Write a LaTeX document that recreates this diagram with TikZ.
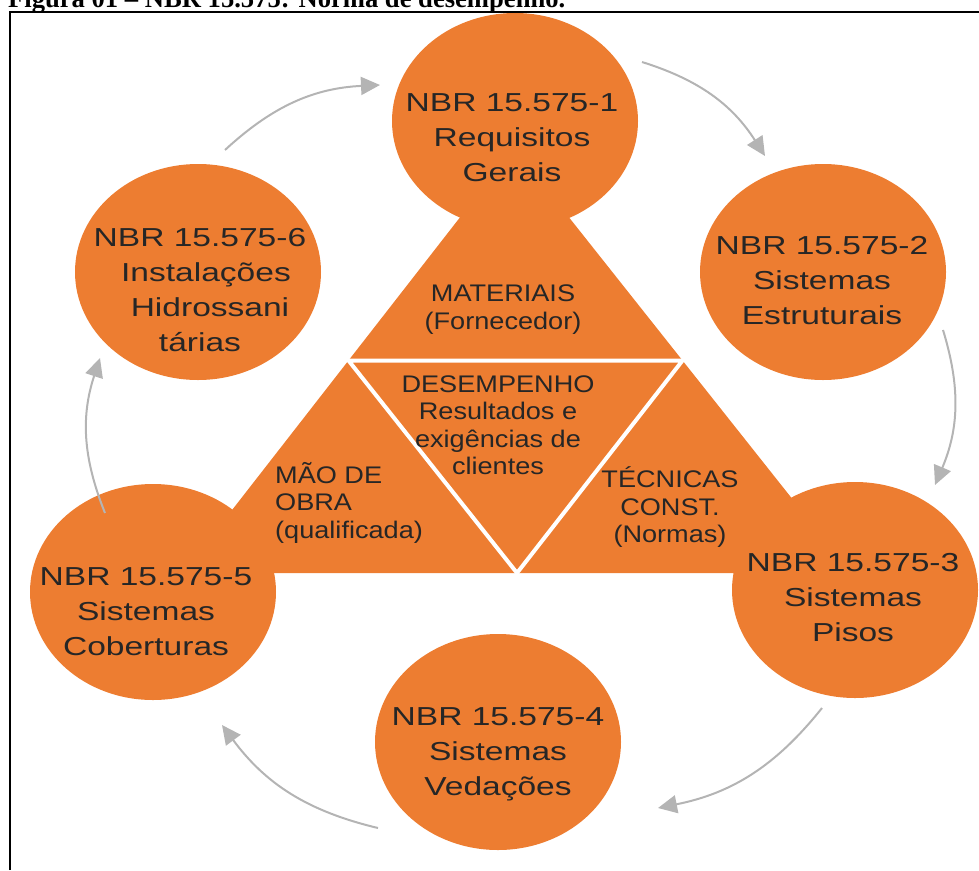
\documentclass[tikz,border=0pt]{standalone}
\usepackage{fontspec}
\setmainfont{Liberation Sans}
\newfontfamily\discfont[FakeStretch=1.29]{Liberation Sans}
\newfontfamily\trifont[FakeStretch=1.13]{Liberation Sans}
\newfontfamily\capfont{Liberation Serif}
\usetikzlibrary{arrows.meta, calc, shapes.geometric}
\definecolor{normorange}{RGB}{237,125,49}
\definecolor{flowgray}{RGB}{180,180,180}
\definecolor{inkgray}{RGB}{38,38,38}

\begin{document}
\begin{tikzpicture}[x=1pt, y=-1pt,
  disc/.style={ellipse, fill=normorange, minimum width=246pt, minimum height=216pt, inner sep=0pt},
  disclabel/.style={align=center, text=inkgray, inner sep=0pt, text depth=0pt,
    font=\discfont\fontsize{26}{35}\selectfont},
  trilabel/.style={align=center, text=inkgray, inner sep=0pt, text depth=0pt,
    font=\trifont\fontsize{24}{27.5}\selectfont},
  flow/.style={-{Triangle[length=19pt, width=18pt]}, flowgray, line width=2pt, bend left=20}]
  \useasboundingbox (0,0) rectangle (979,870);

  % Caption, cut by the top edge, and the frame
  \node[anchor=base west, inner sep=0pt, font=\capfont\bfseries\fontsize{26.6}{30}\selectfont]
    (caption) at (8,7) {Figura 01 – NBR 15.575: Norma de desempenho.};
  \draw[line width=2.5pt] (10,870) -- (10,12) -- (979,12);

  % Central triangle split into four parts
  \coordinate (apex) at (514,148);
  \coordinate (lft) at (183,573);
  \coordinate (rgt) at (851,573);
  \fill[normorange] (apex) -- (lft) -- (rgt) -- cycle;
  \draw[white, line width=4pt]
    ($(apex)!0.5!(lft)$) -- ($(apex)!0.5!(rgt)$) -- ($(lft)!0.5!(rgt)$) -- cycle;

  % Parts of the norm
  \node[disc] (nbr1) at (515,121) {};
  \node[disc] (nbr2) at (823,272) {};
  \node[disc] (nbr3) at (855,590) {};
  \node[disc] (nbr4) at (498,742) {};
  \node[disc] (nbr5) at (153,592) {};
  \node[disc] (nbr6) at (198,272) {};

  \node[disclabel] (txt1) at (512,138) {NBR 15.575-1\\Requisitos\\Gerais};
  \node[disclabel] (txt2) at (822,280) {NBR 15.575-2\\Sistemas\\Estruturais};
  \node[disclabel] (txt3) at (853,597) {NBR 15.575-3\\Sistemas\\Pisos};
  \node[disclabel] (txt4) at (498,752) {NBR 15.575-4\\Sistemas\\Vedações};
  \node[disclabel] (txt5) at (146,612) {NBR 15.575-5\\Sistemas\\Coberturas};
  \node[disclabel] (txt6) at (200,290)
    {NBR 15.575-6\\\hspace*{12pt}Instalações\\\hspace*{20pt}Hidrossani\\tárias};

  % Triangle labels
  \node[trilabel] (materiais) at (503,307) {MATERIAIS\\(Fornecedor)};
  \node[trilabel] (desempenho) at (498,425)
    {DESEMPENHO\\Resultados e\\exigências de\\clientes};
  \node[trilabel, align=left, anchor=west] (maodeobra) at (275,500)
    {MÃO DE\\OBRA\\(qualificada)};
  \node[trilabel] (tecnicas) at (670,505) {TÉCNICAS\\CONST.\\(Normas)};

  % Cycle arrows, clockwise
  \coordinate (from6) at (225,150);  \coordinate (to1) at (380,85);
  \coordinate (from1) at (642,62);   \coordinate (to2) at (765,156);
  \coordinate (from2) at (943,330);  \coordinate (to3) at (935,485);
  \coordinate (from3) at (822,708);  \coordinate (to4) at (658,808);
  \coordinate (from4) at (378,828);  \coordinate (to5) at (222,725);
  \coordinate (from5) at (105,513);  \coordinate (to6) at (100,358);
  \draw[flow] (from6) to (to1);
  \draw[flow] (from1) to (to2);
  \draw[flow] (from2) to (to3);
  \draw[flow] (from3) to (to4);
  \draw[flow] (from4) to (to5);
  \draw[flow] (from5) to (to6);
\end{tikzpicture}
\end{document}
